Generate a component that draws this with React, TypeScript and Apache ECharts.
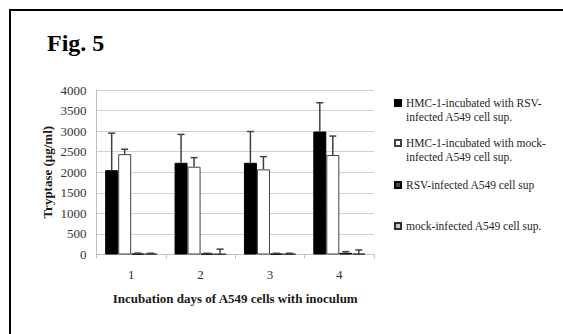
import React, { useEffect, useRef } from "react";
import * as echarts from "echarts";

const categories = ["1", "2", "3", "4"];
const seriesNames = [
  "HMC-1-incubated with RSV-\ninfected A549 cell sup.",
  "HMC-1-incubated with mock-\ninfected A549 cell sup.",
  "RSV-infected A549 cell sup",
  "mock-infected A549 cell sup.",
];
const hmcRsv = [2050, 2230, 2230, 2990];
const hmcRsvTop = [2950, 2920, 2990, 3690];
const hmcMock = [2440, 2135, 2070, 2420];
const hmcMockTop = [2560, 2355, 2380, 2880];
const rsvOnly = [20, 20, 20, 40];
const rsvOnlyTop = [35, 30, 30, 70];
const mockOnly = [20, 15, 15, 20];
const mockOnlyTop = [30, 130, 30, 110];
const yTicks = { min: 0, max: 4000, interval: 500 };

const values = [hmcRsv, hmcMock, rsvOnly, mockOnly];
const tops = [hmcRsvTop, hmcMockTop, rsvOnlyTop, mockOnlyTop];

const serif = "Liberation Serif";
const barStyles = [
  { color: "#000000", borderColor: "#000000", borderWidth: 1 },
  { color: "#ffffff", borderColor: "#404040", borderWidth: 1 },
  { color: "#4a4a4a", borderColor: "#000000", borderWidth: 1 },
  { color: "#c8c8c8", borderColor: "#303030", borderWidth: 1 },
];
const GAP = 0.25;

export default function App() {
  const ref = useRef<HTMLDivElement>(null);
  useEffect(() => {
    if (!ref.current) return;
    const chart = echarts.init(ref.current, undefined, { renderer: "svg" });
    const barSeries = values.map((v, k) => ({
      name: seriesNames[k],
      type: "bar",
      data: v,
      barGap: "0%",
      barCategoryGap: GAP * 100 + "%",
      itemStyle: barStyles[k],
      z: 2,
    }));
    const errSeries = values.map((v, k) => ({
      type: "custom",
      data: v.map((val, i) => [i, val, tops[k][i]]),
      z: 5,
      silent: true,
      renderItem: (params: any, api: any) => {
        const idx = api.value(0);
        const base = api.coord([idx, api.value(1)]);
        const top = api.coord([idx, api.value(2)]);
        const bandW = api.size([1, 0])[0];
        const barW = (bandW * (1 - GAP)) / 4;
        const cx = base[0] + (k - 1.5) * barW;
        const cap = 3.5;
        const style = { stroke: "#404040", lineWidth: 1.5 };
        return {
          type: "group",
          children: [
            { type: "line", shape: { x1: cx, y1: base[1], x2: cx, y2: top[1] }, style },
            { type: "line", shape: { x1: cx - cap, y1: top[1], x2: cx + cap, y2: top[1] }, style },
          ],
        };
      },
    }));
    const LH = 13.5;
    const line1 = [103, 143, 185, 226];
    const legends = seriesNames.map((n, k) => ({
      data: [n],
      orient: "vertical",
      left: 394,
      top: k < 2 ? line1[k] - 1.5 * LH : line1[k] - 0.5 * LH,
      padding: 0,
      itemWidth: 6,
      itemHeight: 6,
      icon: "rect",
      selectedMode: false,
      formatter: (name: string) => (k < 2 ? "\n" + name : name),
      textStyle: {
        fontFamily: serif,
        fontSize: 11.5,
        color: "#262626",
        lineHeight: LH,
      },
    }));
    chart.setOption({
      animation: false,
      backgroundColor: "#ffffff",
      textStyle: { fontFamily: serif },
      legend: legends,
      grid: { left: 96.5, right: 189, top: 90, bottom: 79.5 },
      xAxis: {
        type: "category",
        data: categories,
        name: "Incubation days of A549 cells with inoculum",
        nameLocation: "middle",
        nameGap: 37,
        nameTextStyle: { fontFamily: serif, fontWeight: "bold", fontSize: 13, color: "#1a1a1a" },
        axisLine: { lineStyle: { color: "#bfbfbf", width: 1 } },
        axisTick: { show: true, length: 4, lineStyle: { color: "#bfbfbf" } },
        axisLabel: { fontFamily: serif, fontSize: 13, color: "#333333", margin: 13 },
      },
      yAxis: {
        type: "value",
        min: yTicks.min,
        max: yTicks.max,
        interval: yTicks.interval,
        name: "Tryptase (μg/ml)",
        nameLocation: "middle",
        nameGap: 43,
        nameTextStyle: { fontFamily: serif, fontWeight: "bold", fontSize: 13, color: "#1a1a1a" },
        axisLine: { show: true, lineStyle: { color: "#bfbfbf", width: 1 } },
        axisTick: { show: false },
        axisLabel: {
          fontFamily: serif,
          fontSize: 13,
          color: "#333333",
          margin: 10,
          formatter: (v: number) => String(v),
        },
        splitLine: { lineStyle: { color: "#d0d0d0", width: 1 } },
      },
      graphic: [
        {
          type: "rect",
          shape: { x: 10, y: 10, width: 700, height: 500 },
          style: { fill: "none", stroke: "#000000", lineWidth: 2 },
          z: 10,
        },
        {
          type: "text",
          x: 47,
          y: 31,
          style: {
            text: "Fig. 5",
            fontFamily: serif,
            fontWeight: "bold",
            fontSize: 24,
            fill: "#000000",
            verticalAlign: "top",
          },
        },
      ],
      series: [...barSeries, ...errSeries],
    });
    return () => chart.dispose();
  }, []);
  return (
    <div
      ref={ref}
      style={{ position: "fixed", left: 0, top: 0, width: 563, height: 334 }}
    />
  );
}
